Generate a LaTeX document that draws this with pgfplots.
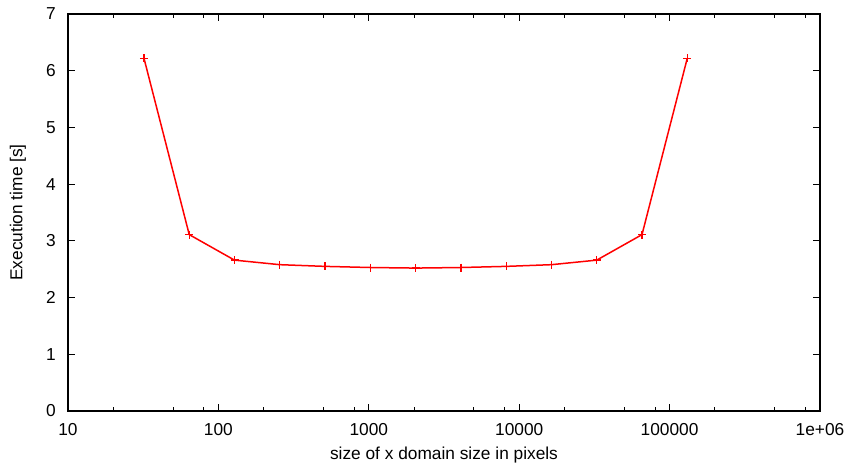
\documentclass[border=0pt]{standalone}
\usepackage{fontspec}
\setmainfont{Liberation Sans}
\usepackage{pgfplots}
\pgfplotsset{compat=1.18}
\begin{document}
\begin{tikzpicture}
\path[use as bounding box] (-68pt,-58pt) rectangle (781pt,411pt);
\begin{axis}[
  scale only axis, width=752pt, height=397pt,
  xmode=log, log basis x=10,
  xmin=10, xmax=1e6, ymin=0, ymax=7,
  xtick={10,100,1000,10000,100000,1000000},
  xticklabels={10,100,1000,10000,100000,1e+06},
  minor xtick={20,50,80,200,500,800,2000,5000,8000,20000,50000,80000,200000,500000,800000},
  ytick={0,1,2,3,4,5,6,7},
  tick align=inside,
  major tick length=7pt, minor tick length=4pt,
  every tick/.style={black, line width=1pt},
  axis line style={line width=1.2pt},
  font=\fontsize{17.3}{20}\selectfont,
  /pgf/number format/assume math mode=true,
  yticklabel style={anchor=east, inner sep=0pt, xshift=-12pt},
  xticklabel style={anchor=north, inner sep=0pt, yshift=-12pt},
  xlabel={size of x domain size in pixels},
  ylabel={Execution time [s]},
  xlabel style={at={(axis description cs:0.5,-0.111)}, anchor=center},
  ylabel style={at={(axis description cs:-0.0665,0.5)}, anchor=center},
]
\addplot[red, line width=1.5pt, mark=+, mark size=4pt, mark options={line width=1.3pt}] coordinates {
  (32,6.22) (64,3.11) (128,2.66) (256,2.58) (512,2.55) (1024,2.53) (2048,2.52)
  (4096,2.53) (8192,2.55) (16384,2.58) (32768,2.66) (65536,3.11) (131072,6.22)
};
\end{axis}
\end{tikzpicture}
\end{document}
